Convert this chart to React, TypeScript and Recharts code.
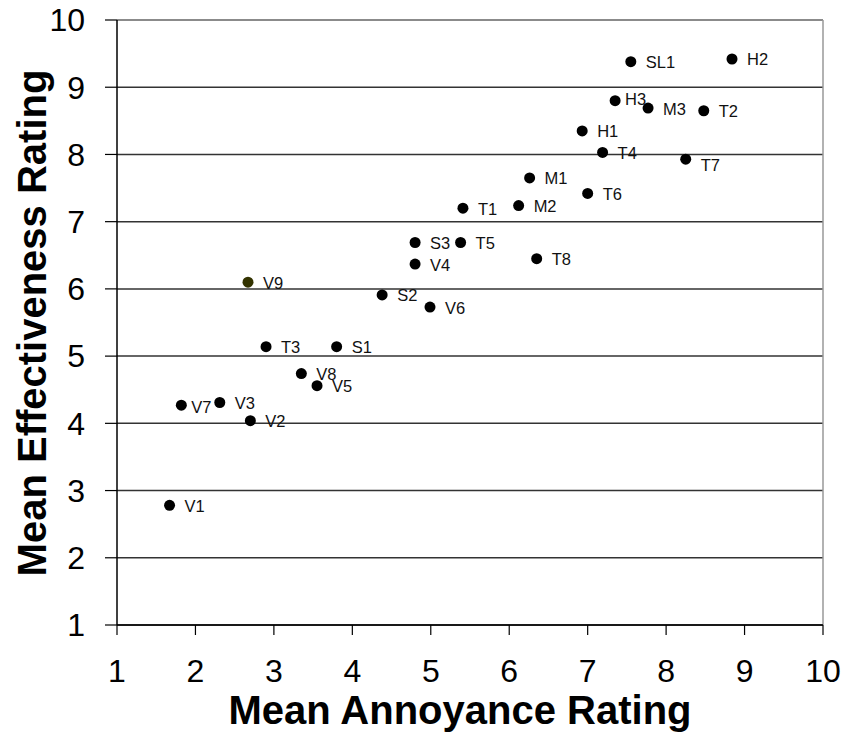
import React from "react";
import {
  ScatterChart,
  Scatter,
  XAxis,
  YAxis,
  CartesianGrid,
  ReferenceLine,
  Label,
} from "recharts";

// point names, read left to right from the picture
const names = [
  "SL1", "H2", "H3", "M3", "T2", "H1", "T4", "T7", "M1", "T6",
  "T1", "M2", "S3", "T5", "V4", "T8", "V9", "S2", "V6", "T3",
  "S1", "V8", "V5", "V7", "V3", "V2", "V1",
];

const annoyance = [
  7.55, 8.84, 7.35, 7.77, 8.48, 6.93, 7.19, 8.25, 6.26, 7.0,
  5.41, 6.12, 4.8, 5.38, 4.8, 6.35, 2.67, 4.38, 4.99, 2.9,
  3.8, 3.35, 3.55, 1.82, 2.31, 2.7, 1.67,
];

const effectiveness = [
  9.38, 9.42, 8.8, 8.69, 8.65, 8.35, 8.03, 7.93, 7.65, 7.42,
  7.2, 7.24, 6.69, 6.69, 6.37, 6.45, 6.1, 5.91, 5.73, 5.14,
  5.14, 4.74, 4.56, 4.27, 4.31, 4.04, 2.78,
];

const axisTicks = [1, 2, 3, 4, 5, 6, 7, 8, 9, 10];

// the one point drawn in a different colour
const pointColor: Record<string, string> = { V9: "#333300" };

// small label nudges where the original labels sit off the usual spot
const labelNudge: Record<string, [number, number]> = {
  H3: [-5, -2],
  T7: [0, 5],
  V7: [-5, 1],
};

const data = names.map((name, i) => ({
  name,
  x: annoyance[i],
  y: effectiveness[i],
}));

const FONT = '"Liberation Sans", Arial, sans-serif';

const Point = (props: any) => {
  const { cx, cy, payload } = props;
  const [ndx, ndy] = labelNudge[payload.name] || [0, 0];
  return (
    <g>
      <circle cx={cx} cy={cy} r={5.5} fill={pointColor[payload.name] || "#000"} />
      <text
        x={cx + 15 + ndx}
        y={cy + 6.5 + ndy}
        fontSize={16.5}
        fontFamily={FONT}
        fill="#111"
      >
        {payload.name}
      </text>
    </g>
  );
};

export default function App() {
  return (
    <div style={{ position: "absolute", left: 0, top: 0, background: "#fff" }}>
      <ScatterChart
        width={846}
        height={733}
        margin={{ top: 20, right: 23, bottom: 0, left: 0 }}
      >
        <CartesianGrid horizontal vertical={false} stroke="#333" strokeWidth={1.5} />
        <XAxis
          type="number"
          dataKey="x"
          domain={[1, 10]}
          ticks={axisTicks}
          height={108}
          axisLine={{ stroke: "#000", strokeWidth: 1.5 }}
          tickLine={{ stroke: "#000", strokeWidth: 1.2 }}
          tickSize={10}
          tickMargin={24}
          tick={{ fontSize: 32, fill: "#000", fontFamily: FONT }}
          interval={0}
        >
          <Label
            content={() => (
              <text
                x={460}
                y={724}
                textAnchor="middle"
                fontSize={40}
                fontWeight="bold"
                fontFamily={FONT}
                fill="#000"
              >
                Mean Annoyance Rating
              </text>
            )}
          />
        </XAxis>
        <YAxis
          type="number"
          dataKey="y"
          domain={[1, 10]}
          ticks={axisTicks}
          width={117}
          axisLine={{ stroke: "#000", strokeWidth: 1.5 }}
          tickLine={{ stroke: "#000", strokeWidth: 1.2 }}
          tickSize={12}
          tickMargin={20}
          tick={{ fontSize: 32, fill: "#000", fontFamily: FONT }}
          interval={0}
        >
          <Label
            content={() => (
              <text
                x={46}
                y={323}
                textAnchor="middle"
                fontSize={40}
                fontWeight="bold"
                fontFamily={FONT}
                fill="#000"
                transform="rotate(-90, 46, 323)"
              >
                Mean Effectiveness Rating
              </text>
            )}
          />
        </YAxis>
        <ReferenceLine y={10} stroke="#999" strokeWidth={1.5} />
        <ReferenceLine x={10} stroke="#999" strokeWidth={1.5} />
        <Scatter data={data} shape={Point} isAnimationActive={false} />
      </ScatterChart>
    </div>
  );
}
